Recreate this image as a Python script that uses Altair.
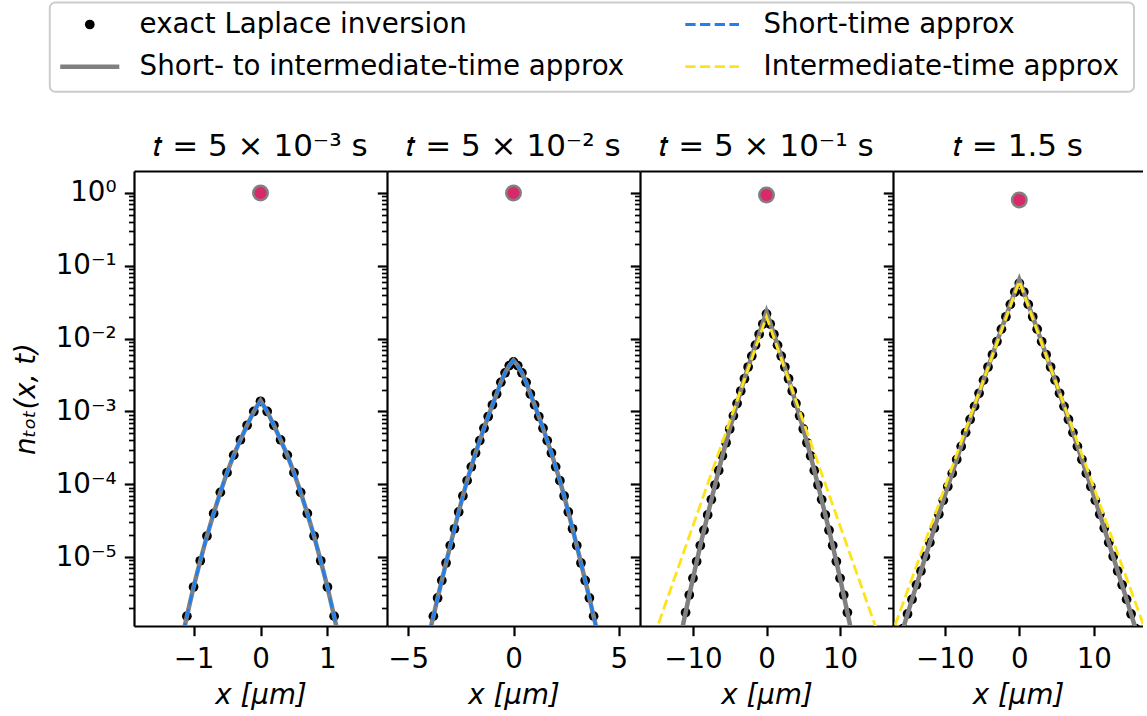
import altair as alt
import pandas as pd

# ---------------------------------------------------------------- text
panel_titles = ["𝑡 = 5 × 10⁻³ s", "𝑡 = 5 × 10⁻² s", "𝑡 = 5 × 10⁻¹ s", "𝑡 = 1.5 s"]
legend_labels = [
    "exact Laplace inversion",
    "Short- to intermediate-time approx",
    "Short-time approx",
    "Intermediate-time approx",
]
x_title = "x [μm]"
y_title = "nₜₒₜ(x, t)"
y_tick_labels = ["10⁰", "10⁻¹", "10⁻²", "10⁻³", "10⁻⁴", "10⁻⁵"]
x_ticks = [[-1, 0, 1], [-5, 0, 5], [-10, 0, 10], [-10, 0, 10]]
x_domains = [[-1.89, 1.89], [-6.0, 6.0], [-17.2, 17.2], [-16.95, 16.6]]
y_domain = [1.135e-6, 2.0]

# ---------------------------------------------------------------- data (log10 of n_tot)
# t = 5e-3 s
exact_x_1 = [-1.1, -1.0, -0.9, -0.8, -0.7, -0.6, -0.5, -0.4, -0.3, -0.2, -0.1, 0.0,
             0.1, 0.2, 0.3, 0.4, 0.5, 0.6, 0.7, 0.8, 0.9, 1.0, 1.1]
exact_log_1 = [-5.81, -5.41, -5.05, -4.71, -4.40, -4.11, -3.84, -3.60, -3.39, -3.19, -3.00, -2.86,
               -3.00, -3.19, -3.39, -3.60, -3.84, -4.11, -4.40, -4.71, -5.05, -5.41, -5.81]
approx_x_1 = [-1.2, -1.1, -1.0, -0.9, -0.8, -0.7, -0.6, -0.5, -0.4, -0.3, -0.2, -0.1, 0.0,
              0.1, 0.2, 0.3, 0.4, 0.5, 0.6, 0.7, 0.8, 0.9, 1.0, 1.1, 1.2]
mixed_log_1 = [-6.24, -5.81, -5.41, -5.05, -4.71, -4.40, -4.11, -3.84, -3.60, -3.39, -3.19, -3.00, -2.85,
               -3.00, -3.19, -3.39, -3.60, -3.84, -4.11, -4.40, -4.71, -5.05, -5.41, -5.81, -6.24]
short_log_1 = [-6.24, -5.81, -5.41, -5.05, -4.71, -4.40, -4.11, -3.84, -3.60, -3.39, -3.19, -3.00, -2.85,
               -3.00, -3.19, -3.39, -3.60, -3.84, -4.11, -4.40, -4.71, -5.05, -5.41, -5.81, -6.24]

# t = 5e-2 s
exact_x_2 = [-3.8, -3.6, -3.4, -3.2, -3.0, -2.8, -2.6, -2.4, -2.2, -2.0, -1.8, -1.6, -1.4, -1.2, -1.0,
             -0.8, -0.6, -0.4, -0.2, 0.0, 0.2, 0.4, 0.6, 0.8, 1.0, 1.2, 1.4, 1.6, 1.8, 2.0, 2.2, 2.4,
             2.6, 2.8, 3.0, 3.2, 3.4, 3.6, 3.8]
exact_log_2 = [-5.81, -5.56, -5.32, -5.08, -4.84, -4.61, -4.38, -4.16, -3.95, -3.76, -3.57, -3.40, -3.23,
               -3.07, -2.91, -2.76, -2.60, -2.47, -2.37, -2.32, -2.37, -2.47, -2.60, -2.76, -2.91, -3.07,
               -3.23, -3.40, -3.57, -3.76, -3.95, -4.16, -4.38, -4.61, -4.84, -5.08, -5.32, -5.56, -5.81]
approx_x_2 = [-4.0, -3.8, -3.6, -3.4, -3.2, -3.0, -2.8, -2.6, -2.4, -2.2, -2.0, -1.8, -1.6, -1.4, -1.2,
              -1.0, -0.8, -0.6, -0.4, -0.2, 0.0, 0.2, 0.4, 0.6, 0.8, 1.0, 1.2, 1.4, 1.6, 1.8, 2.0, 2.2,
              2.4, 2.6, 2.8, 3.0, 3.2, 3.4, 3.6, 3.8, 4.0]
mixed_log_2 = [-6.06, -5.81, -5.56, -5.32, -5.08, -4.84, -4.61, -4.38, -4.16, -3.95, -3.76, -3.57, -3.40,
               -3.23, -3.07, -2.91, -2.76, -2.60, -2.47, -2.37, -2.30, -2.37, -2.47, -2.60, -2.76, -2.91,
               -3.07, -3.23, -3.40, -3.57, -3.76, -3.95, -4.16, -4.38, -4.61, -4.84, -5.08, -5.32, -5.56,
               -5.81, -6.06]
short_log_2 = [-6.06, -5.81, -5.56, -5.32, -5.08, -4.84, -4.61, -4.38, -4.16, -3.95, -3.76, -3.57, -3.40,
               -3.23, -3.07, -2.91, -2.76, -2.60, -2.47, -2.37, -2.30, -2.37, -2.47, -2.60, -2.76, -2.91,
               -3.07, -3.23, -3.40, -3.57, -3.76, -3.95, -4.16, -4.38, -4.61, -4.84, -5.08, -5.32, -5.56,
               -5.81, -6.06]

# t = 5e-1 s
exact_x_3 = [-11.0, -10.5, -10.0, -9.5, -9.0, -8.5, -8.0, -7.5, -7.0, -6.5, -6.0, -5.5, -5.0, -4.5,
             -4.0, -3.5, -3.0, -2.5, -2.0, -1.5, -1.0, -0.5, 0.0, 0.5, 1.0, 1.5, 2.0, 2.5, 3.0, 3.5,
             4.0, 4.5, 5.0, 5.5, 6.0, 6.5, 7.0, 7.5, 8.0, 8.5, 9.0, 9.5, 10.0, 10.5, 11.0]
exact_log_3 = [-5.76, -5.52, -5.29, -5.06, -4.84, -4.63, -4.42, -4.21, -4.01, -3.81, -3.61, -3.43, -3.24,
               -3.06, -2.89, -2.72, -2.55, -2.39, -2.24, -2.09, -1.94, -1.80, -1.66, -1.80, -1.94, -2.09,
               -2.24, -2.39, -2.55, -2.72, -2.89, -3.06, -3.24, -3.43, -3.61, -3.81, -4.01, -4.21, -4.42,
               -4.63, -4.84, -5.06, -5.29, -5.52, -5.76]
mixed_x_3 = [-12, -11, -10, -9, -8, -7, -6, -5, -4, -3, -2, -1, 0, 1, 2, 3, 4, 5, 6, 7, 8, 9, 10, 11, 12]
mixed_log_3 = [-6.24, -5.76, -5.29, -4.84, -4.42, -4.01, -3.61, -3.24, -2.89, -2.55, -2.24, -1.94, -1.63,
               -1.94, -2.24, -2.55, -2.89, -3.24, -3.61, -4.01, -4.42, -4.84, -5.29, -5.76, -6.24]
inter_x_3 = [-16, 0, 16]
inter_log_3 = [-6.29, -1.70, -6.29]

# t = 1.5 s
exact_x_4 = [-15.6, -15.0, -14.4, -13.8, -13.2, -12.6, -12.0, -11.4, -10.8, -10.2, -9.6, -9.0, -8.4,
             -7.8, -7.2, -6.6, -6.0, -5.4, -4.8, -4.2, -3.6, -3.0, -2.4, -1.8, -1.2, -0.6, 0.0, 0.6,
             1.2, 1.8, 2.4, 3.0, 3.6, 4.2, 4.8, 5.4, 6.0, 6.6, 7.2, 7.8, 8.4, 9.0, 9.6, 10.2, 10.8,
             11.4, 12.0, 12.6, 13.2, 13.8, 14.4, 15.0, 15.6]
exact_log_4 = [-5.98, -5.78, -5.58, -5.38, -5.19, -4.99, -4.80, -4.60, -4.41, -4.22, -4.03, -3.85, -3.66,
               -3.48, -3.29, -3.11, -2.93, -2.75, -2.57, -2.39, -2.22, -2.04, -1.87, -1.70, -1.53, -1.36,
               -1.24, -1.36, -1.53, -1.70, -1.87, -2.04, -2.22, -2.39, -2.57, -2.75, -2.93, -3.11, -3.29,
               -3.48, -3.66, -3.85, -4.03, -4.22, -4.41, -4.60, -4.80, -4.99, -5.19, -5.38, -5.58, -5.78,
               -5.98]
mixed_x_4 = [-16.8, -15.6, -14.4, -13.2, -12.0, -10.8, -9.6, -8.4, -7.2, -6.0, -4.8, -3.6, -2.4, -1.2,
             0.0, 1.2, 2.4, 3.6, 4.8, 6.0, 7.2, 8.4, 9.6, 10.8, 12.0, 13.2, 14.4, 15.6, 16.8]
mixed_log_4 = [-6.39, -5.98, -5.58, -5.19, -4.80, -4.41, -4.03, -3.66, -3.29, -2.93, -2.57, -2.22, -1.87,
               -1.53, -1.19, -1.53, -1.87, -2.22, -2.57, -2.93, -3.29, -3.66, -4.03, -4.41, -4.80, -5.19,
               -5.58, -5.98, -6.39]
inter_x_4 = [-18, 0, 18]
inter_log_4 = [-6.31, -1.21, -6.31]

# initial condition marker at x = 0 in each panel
initial_value = [1.0, 1.0, 0.94, 0.80]

# ---------------------------------------------------------------- styling
FONT = "DejaVu Sans"
FS = 27.7
C_DOT = "black"
C_MIXED = "#808080"
C_SHORT = "#1f80f0"
C_INTER = "#ffe31a"
C_INIT = "#d9296a"
DASH = [10.3, 4.4]
PANEL_W = [253, 253, 253, 250]
PANEL_H = 455
LEGEND_H = 171

MAJOR = "abs(log(datum.value)/LN10 - round(log(datum.value)/LN10)) < 0.001"
label_array = "[" + ",".join("'%s'" % s for s in y_tick_labels) + "]"
LABEL_EXPR = "%s ? %s[-round(log(datum.value)/LN10)] : ''" % (MAJOR, label_array)

# major and minor log ticks strictly inside the y range
y_tick_values = []
for e in range(-6, 1):
    for k in range(1, 10):
        v = k * 10.0 ** e
        if y_domain[0] < v < y_domain[1] * 0.999:
            y_tick_values.append(v)


def frame(xs, logs):
    return pd.DataFrame({"x": xs, "n": [10.0 ** v for v in logs]})


def y_axis(show):
    kw = dict(
        values=y_tick_values,
        tickSize={"condition": {"test": MAJOR, "value": 9.7}, "value": 5.5},
        tickWidth={"condition": {"test": MAJOR, "value": 2.2}, "value": 1.7},
        tickColor="black", domainColor="black", domainWidth=2.2, grid=False,
        labelOverlap=False,
    )
    if show:
        kw.update(
            labelExpr=LABEL_EXPR, labelFont=FONT, labelFontSize=FS, labelColor="black",
            labelPadding=8.2, title=y_title, titleFont=FONT, titleFontSize=FS,
            titleFontStyle="italic", titleFontWeight="normal", titleColor="black",
            titleX=-108, titleY=PANEL_H / 2, titleAlign="center", titleBaseline="middle",
        )
    else:
        kw.update(labels=False, title=None)
    return alt.Axis(**kw)


def x_axis_bottom(i):
    return alt.Axis(
        values=x_ticks[i], format="d", tickSize=9.7, tickWidth=2.2, tickColor="black",
        domainColor="black", domainWidth=2.2, grid=False, labelFont=FONT, labelFontSize=FS,
        labelColor="black", labelPadding=10, labelFlush=False, title=x_title, titleFont=FONT,
        titleFontSize=FS, titleFontStyle="italic", titleFontWeight="normal", titleColor="black",
        titlePadding=8,
    )


x_axis_top = alt.Axis(orient="top", labels=False, ticks=False, domainColor="black",
                      domainWidth=2.2, grid=False, title=None)

one_row = pd.DataFrame({"k": [0]})


def legend_chart():
    # coordinates are relative to the left edge of the first panel and the top of the figure
    row1, row2 = 24.5, 66.7
    box = alt.Chart(one_row).mark_rect(
        fill="white", stroke="#cccccc", strokeWidth=2, cornerRadius=5.5
    ).encode(x=alt.value(-84.2), x2=alt.value(1000), y=alt.value(2.5), y2=alt.value(91.7))
    dot = alt.Chart(one_row).mark_circle(color=C_DOT, opacity=1, size=95).encode(
        x=alt.value(-44.2), y=alt.value(row1))
    mixed = alt.Chart(one_row).mark_rule(color=C_MIXED, strokeWidth=4.5).encode(
        x=alt.value(-73.8), x2=alt.value(-14.7), y=alt.value(row2))
    short = alt.Chart(one_row).mark_rule(color=C_SHORT, strokeWidth=2.8, strokeDash=DASH).encode(
        x=alt.value(551.3), x2=alt.value(605), y=alt.value(row1))
    inter = alt.Chart(one_row).mark_rule(color=C_INTER, strokeWidth=2.8, strokeDash=DASH).encode(
        x=alt.value(551.3), x2=alt.value(605), y=alt.value(row2))
    texts = []
    for label, tx, ty in zip(legend_labels, [5.6, 5.6, 629.5, 629.5], [row1, row2, row1, row2]):
        texts.append(
            alt.Chart(one_row).mark_text(
                align="left", baseline="middle", font=FONT, fontSize=FS, color="black"
            ).encode(x=alt.value(tx), y=alt.value(ty), text=alt.value(label))
        )
    return alt.layer(box, dot, mixed, short, inter, *texts).properties(
        width=PANEL_W[0], height=LEGEND_H)


panels_data = [
    dict(exact=frame(exact_x_1, exact_log_1), mixed=frame(approx_x_1, mixed_log_1),
         short=frame(approx_x_1, short_log_1), inter=None),
    dict(exact=frame(exact_x_2, exact_log_2), mixed=frame(approx_x_2, mixed_log_2),
         short=frame(approx_x_2, short_log_2), inter=None),
    dict(exact=frame(exact_x_3, exact_log_3), mixed=frame(mixed_x_3, mixed_log_3),
         short=None, inter=frame(inter_x_3, inter_log_3)),
    dict(exact=frame(exact_x_4, exact_log_4), mixed=frame(mixed_x_4, mixed_log_4),
         short=None, inter=frame(inter_x_4, inter_log_4)),
]


def panel(i):
    d = panels_data[i]
    xs = alt.Scale(domain=x_domains[i], nice=False, zero=False)
    ys = alt.Scale(type="log", domain=y_domain, nice=False)

    def xy(x_ax=None, y_ax=None):
        x = alt.X("x:Q", scale=xs, axis=x_ax) if x_ax is not None else alt.X("x:Q", scale=xs, axis=None)
        y = alt.Y("n:Q", scale=ys, axis=y_ax) if y_ax is not None else alt.Y("n:Q", scale=ys, axis=None)
        return {"x": x, "y": y}

    layers = [
        alt.Chart(d["exact"]).mark_circle(color=C_DOT, opacity=1, size=95, clip=True)
        .encode(**xy(x_axis_bottom(i), y_axis(i == 0))),
        alt.Chart(d["mixed"]).mark_line(color=C_MIXED, strokeWidth=4.5, clip=True).encode(**xy()),
    ]
    if d["short"] is not None:
        layers.append(alt.Chart(d["short"]).mark_line(color=C_SHORT, strokeWidth=2.8,
                                                      strokeDash=DASH, clip=True).encode(**xy()))
    if d["inter"] is not None:
        layers.append(alt.Chart(d["inter"]).mark_line(color=C_INTER, strokeWidth=2.8,
                                                      strokeDash=DASH, clip=True).encode(**xy()))
    init = pd.DataFrame({"x": [0.0], "n": [initial_value[i]]})
    layers.append(alt.Chart(init).mark_circle(fill=C_INIT, stroke=C_MIXED, strokeWidth=2.5,
                                              opacity=1, size=210)
                  .encode(**xy(x_axis_top)))
    return alt.layer(*layers).resolve_axis(x="independent", y="independent").properties(
        width=PANEL_W[i], height=PANEL_H,
        title=alt.TitleParams(text=panel_titles[i], font=FONT, fontSize=31, fontWeight="normal",
                              color="black", anchor="middle", frame="group",
                              baseline="alphabetic", offset=-16),
    )


panels = alt.hconcat(*[panel(i) for i in range(4)], spacing=0, bounds="flush")

chart = (
    alt.vconcat(legend_chart(), panels, spacing=0, bounds="flush")
    .properties(padding={"left": 12, "top": 0, "right": 0, "bottom": 0}, background="white")
    .configure_view(strokeWidth=0)
)

chart.save("out.html", embed_options={"renderer": "svg", "actions": False})
